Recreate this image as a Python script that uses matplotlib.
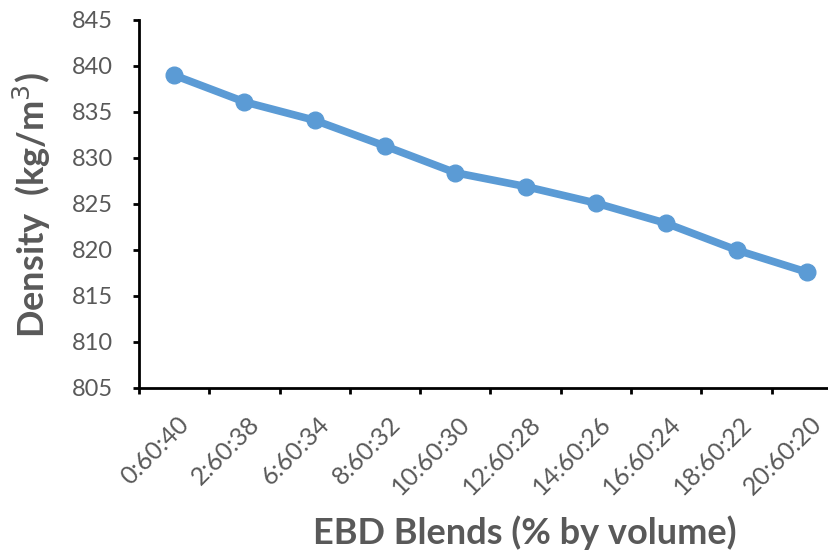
import matplotlib
matplotlib.use("Agg")
import matplotlib.pyplot as plt
from matplotlib.transforms import offset_copy

categories = ["0:60:40", "2:60:38", "6:60:34", "8:60:32", "10:60:30",
              "12:60:28", "14:60:26", "16:60:24", "18:60:22", "20:60:20"]
density = [839.0, 836.1, 834.1, 831.3, 828.4, 826.9, 825.1, 822.9, 820.0, 817.6]
yticks = [805, 810, 815, 820, 825, 830, 835, 840, 845]

plt.rcParams['font.family'] = ['Lato', 'DejaVu Sans']
gray = "#595959"

fig = plt.figure(figsize=(8.29, 5.54), dpi=100)
W, H = 829, 554
ax = fig.add_axes([139 / W, (H - 388) / H, 703 / W, 368 / H])

x = list(range(len(categories)))
ax.plot(x, density, color="#5B9BD5", lw=5.5, marker="o", ms=12, solid_capstyle="round")

ax.set_xlim(-0.5, len(categories) - 0.5)
ax.set_ylim(805, 845)
ax.set_yticks(yticks)
ax.set_yticklabels([str(v) for v in yticks], color=gray, fontsize=17)
ax.set_xticks([i - 0.5 for i in range(len(categories))])
ax.set_xticklabels([])
trans = offset_copy(ax.get_xaxis_transform(), fig=fig, x=3, y=-24, units="dots")
for i, c in enumerate(categories):
    ax.text(i, 0, c, transform=trans, rotation=45,
            ha="right", va="top", rotation_mode="anchor", color=gray, fontsize=18)

for s in ["top", "right"]:
    ax.spines[s].set_visible(False)
for s in ["left", "bottom"]:
    ax.spines[s].set_linewidth(2)
    ax.spines[s].set_color("black")
ax.tick_params(axis="both", direction="out", length=4.5, width=2, color="black")
ax.tick_params(axis="y", pad=14)

fig.text(32 / W, 1 - 205 / H, "Density  (kg/m$^3$)", fontsize=26, fontweight="bold",
         color=gray, rotation=90, ha="center", va="center")
fig.text(525 / W, 1 - 533 / H, "EBD Blends (% by volume)", fontsize=26,
         fontweight="bold", color=gray, ha="center", va="center")

fig.savefig("out.png", dpi=100)
